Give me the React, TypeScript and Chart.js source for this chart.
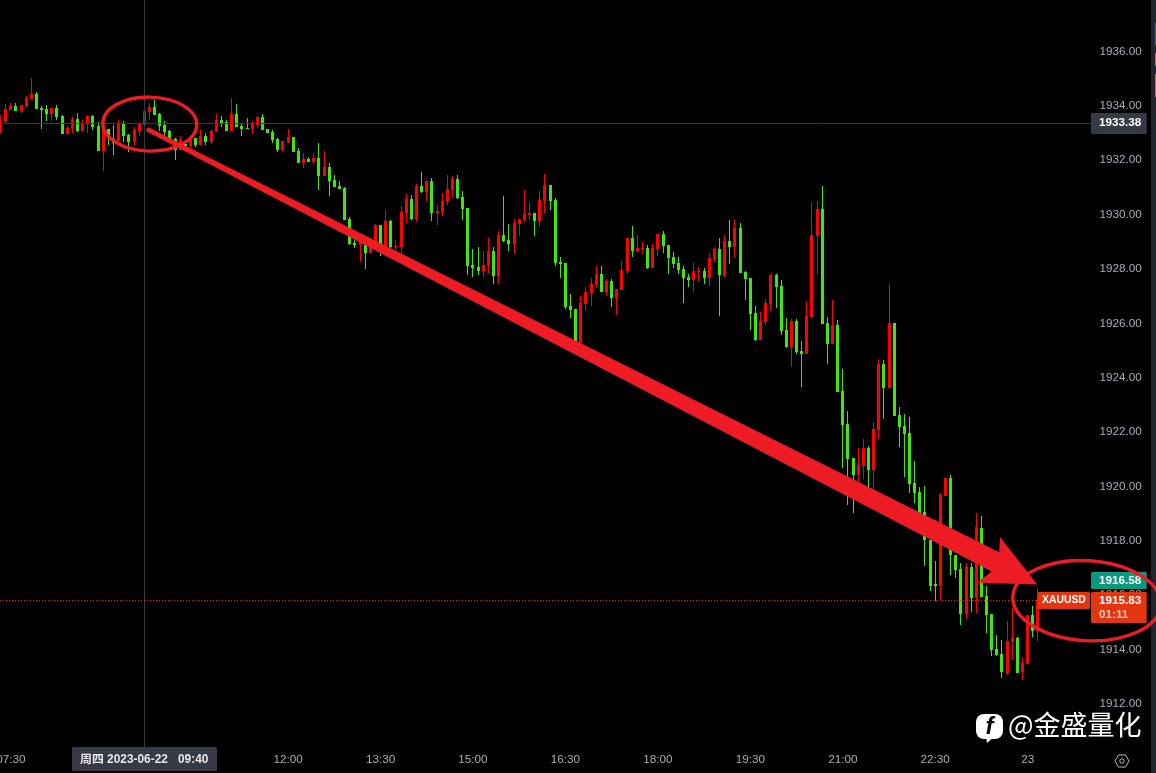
import React, { useEffect, useRef } from "react";
import Chart from "chart.js/auto";

const opens = [
  1933.02,1933.42,1933.85,1933.98,1933.81,1933.98,1934.25,1934.45,1933.92,1933.89,
  1933.70,1933.92,1933.63,1932.97,1933.15,1933.52,1933.08,1933.33,1933.63,1933.26,
  1932.34,1933.15,1932.77,1932.71,1933.33,1932.93,1932.67,1933.08,1933.30,1933.78,
  1933.96,1933.70,1933.30,1933.08,1932.77,1932.38,1932.60,1932.52,1932.82,1932.56,
  1932.89,1932.67,1933.04,1933.48,1933.41,1933.08,1933.70,1933.26,1933.17,1933.15,
  1933.30,1933.59,1933.15,1933.04,1932.78,1932.38,1932.67,1932.86,1932.34,1931.90,
  1932.05,1931.94,1932.08,1931.42,1931.75,1931.27,1931.05,1930.98,1929.84,1928.96,
  1928.88,1928.88,1928.59,1928.92,1929.62,1928.82,1929.77,1928.81,1928.81,1930.06,
  1930.58,1929.84,1931.05,1930.83,1931.24,1930.06,1930.10,1930.47,1930.91,1931.31,
  1930.65,1930.24,1928.15,1928.08,1927.93,1928.11,1928.66,1927.74,1929.25,1929.07,
  1928.92,1929.66,1929.80,1929.99,1930.06,1929.77,1930.50,1931.09,1930.54,1928.26,
  1928.22,1926.64,1926.53,1925.27,1926.71,1927.12,1927.41,1927.81,1927.15,1927.56,
  1926.93,1927.23,1927.93,1929.14,1928.66,1928.73,1928.77,1928.04,1928.73,1929.29,
  1928.88,1928.44,1928.22,1928.00,1927.70,1927.59,1927.89,1927.93,1927.67,1928.37,
  1928.73,1927.74,1929.03,1928.81,1929.51,1927.89,1927.67,1926.38,1925.39,1926.05,
  1926.71,1927.78,1927.37,1925.76,1925.13,1926.09,1924.98,1924.87,1926.23,1929.21,
  1930.21,1926.01,1925.24,1925.94,1923.51,1922.30,1921.05,1920.42,1920.75,1921.42,
  1920.61,1922.08,1924.50,1923.62,1926.01,1922.63,1922.22,1921.97,1920.13,1919.80,
  1919.07,1918.04,1916.40,1916.35,1919.66,1920.31,1917.49,1916.96,1915.32,1917.03,
  1915.89,1918.47,1915.98,1915.32,1914.03,1913.84,1913.13,1914.29,1914.43,1913.16,
  1913.48,1915.28,1914.67,
];

const highs = [
  1933.66,1934.07,1934.09,1934.09,1934.03,1934.36,1935.01,1934.51,1933.98,1934.03,
  1933.92,1934.03,1933.66,1933.26,1933.59,1933.74,1933.48,1933.66,1933.66,1933.41,
  1933.30,1933.15,1933.30,1933.48,1933.44,1932.97,1933.22,1933.33,1933.81,1934.11,
  1934.22,1933.74,1933.44,1933.11,1932.81,1932.89,1932.75,1932.89,1932.82,1933.11,
  1933.00,1933.11,1933.70,1933.63,1933.48,1934.29,1934.07,1933.33,1933.55,1933.44,
  1933.63,1933.70,1933.15,1933.11,1932.82,1932.71,1933.15,1932.86,1932.45,1932.27,
  1932.12,1932.27,1932.64,1932.34,1931.90,1931.46,1931.24,1931.02,1929.91,1929.07,
  1929.13,1929.01,1929.01,1929.66,1929.62,1930.17,1929.80,1929.07,1930.32,1930.76,
  1930.72,1931.13,1931.57,1931.24,1931.35,1930.36,1930.80,1931.46,1931.42,1931.46,
  1930.87,1930.24,1928.74,1928.81,1928.66,1929.14,1928.81,1929.40,1930.69,1929.66,
  1929.84,1929.84,1930.91,1930.47,1930.06,1930.87,1931.49,1931.09,1930.61,1928.44,
  1928.22,1927.08,1926.53,1927.01,1927.34,1927.67,1928.11,1928.11,1927.63,1927.63,
  1927.26,1928.29,1929.14,1929.58,1929.25,1928.99,1928.88,1928.92,1929.29,1929.40,
  1928.88,1928.62,1928.44,1928.11,1927.81,1928.22,1928.07,1928.04,1928.59,1928.81,
  1929.14,1929.25,1929.80,1929.80,1929.69,1927.93,1927.67,1926.64,1926.42,1926.90,
  1927.81,1927.81,1927.59,1926.20,1926.16,1926.16,1925.35,1926.82,1930.46,1930.50,
  1931.05,1926.23,1926.86,1926.12,1924.32,1922.78,1921.05,1921.42,1921.75,1921.49,
  1922.37,1924.65,1924.65,1927.45,1926.01,1922.92,1922.67,1922.56,1920.94,1919.97,
  1920.00,1918.04,1917.24,1919.75,1920.31,1920.43,1917.49,1917.18,1917.18,1917.18,
  1919.02,1918.90,1916.35,1915.32,1914.54,1914.36,1915.06,1915.52,1914.48,1913.69,
  1915.28,1915.61,1916.26,
];

const lows = [
  1933.02,1933.42,1933.85,1933.82,1933.75,1933.97,1934.25,1933.89,1933.16,1933.44,
  1933.44,1933.48,1932.97,1932.97,1933.00,1933.04,1933.08,1933.00,1933.11,1932.34,
  1931.61,1932.56,1932.19,1932.71,1932.67,1932.30,1932.52,1932.89,1933.30,1933.48,
  1933.66,1933.08,1932.86,1932.75,1932.01,1932.38,1932.49,1932.41,1932.49,1932.56,
  1932.56,1932.60,1933.04,1933.22,1933.08,1933.08,1933.22,1932.89,1933.15,1932.97,
  1933.19,1933.11,1933.00,1932.64,1932.30,1932.34,1932.64,1932.30,1931.90,1931.72,
  1931.94,1931.83,1930.91,1931.42,1930.69,1931.02,1930.94,1929.80,1928.88,1928.77,
  1928.26,1928.00,1928.59,1928.92,1928.48,1928.70,1928.77,1928.58,1928.52,1929.69,
  1929.80,1929.73,1930.80,1930.50,1929.77,1929.62,1929.95,1930.36,1930.61,1930.58,
  1929.80,1927.78,1927.71,1927.78,1927.71,1927.85,1927.45,1927.45,1928.99,1928.66,
  1928.55,1929.22,1929.73,1929.80,1929.22,1929.55,1930.06,1930.17,1928.11,1927.67,
  1926.53,1926.20,1925.27,1925.27,1926.49,1926.64,1927.30,1927.15,1927.01,1926.60,
  1926.31,1927.23,1927.81,1928.44,1928.59,1928.55,1928.00,1928.04,1928.48,1928.59,
  1927.81,1928.04,1927.81,1926.75,1927.34,1927.15,1927.56,1927.45,1927.37,1928.26,
  1926.27,1927.70,1928.18,1928.40,1927.85,1926.86,1925.76,1925.35,1925.39,1925.94,
  1926.45,1926.56,1925.57,1925.09,1924.39,1924.87,1923.66,1924.87,1926.23,1927.81,
  1925.98,1924.50,1925.24,1923.48,1920.68,1919.32,1919.03,1920.16,1920.27,1919.87,
  1919.87,1921.75,1922.48,1923.62,1922.59,1921.45,1920.35,1919.76,1919.39,1918.53,
  1917.06,1916.14,1915.77,1915.83,1919.66,1916.75,1916.63,1914.91,1915.12,1915.40,
  1915.36,1915.95,1914.60,1913.75,1913.75,1912.95,1913.07,1913.62,1913.13,1912.89,
  1913.48,1914.48,1914.30,
];

const closes = [
  1933.42,1933.89,1933.98,1933.82,1934.03,1934.29,1934.44,1933.89,1933.85,1933.70,
  1933.92,1933.59,1932.97,1933.19,1933.52,1933.08,1933.33,1933.63,1933.22,1932.34,
  1933.15,1932.82,1932.63,1933.33,1932.89,1932.67,1933.11,1933.33,1933.81,1933.96,
  1933.66,1933.26,1933.04,1932.77,1932.38,1932.75,1932.52,1932.82,1932.56,1932.89,
  1932.67,1933.08,1933.48,1933.37,1933.08,1933.70,1933.22,1933.15,1933.15,1933.37,
  1933.59,1933.11,1933.00,1932.75,1932.38,1932.71,1932.86,1932.30,1931.90,1932.05,
  1931.94,1932.08,1931.42,1931.75,1931.24,1931.02,1930.94,1929.80,1928.92,1928.88,
  1929.13,1928.59,1928.95,1929.62,1928.70,1929.77,1928.81,1928.85,1930.10,1930.58,
  1929.84,1931.05,1930.83,1931.24,1930.06,1930.13,1930.50,1930.94,1931.31,1930.61,
  1930.21,1928.11,1928.04,1927.93,1928.15,1928.66,1927.74,1929.25,1929.03,1928.92,
  1929.69,1929.84,1930.02,1930.06,1929.77,1930.54,1931.09,1930.50,1928.22,1928.18,
  1926.60,1926.49,1925.27,1926.75,1927.15,1927.45,1927.81,1927.15,1927.56,1926.93,
  1927.26,1927.96,1929.14,1928.66,1928.77,1928.77,1928.04,1928.77,1929.29,1928.84,
  1928.40,1928.18,1927.96,1927.67,1927.59,1927.93,1927.93,1927.67,1928.40,1928.73,
  1927.78,1929.03,1928.81,1929.51,1927.85,1927.63,1926.34,1925.39,1926.09,1926.75,
  1927.78,1927.34,1925.72,1925.13,1926.09,1924.95,1924.87,1926.27,1929.25,1930.21,
  1925.98,1925.24,1925.94,1923.48,1922.26,1921.01,1920.42,1920.79,1921.42,1920.61,
  1922.11,1924.50,1923.62,1926.01,1922.59,1922.19,1921.93,1920.09,1919.76,1919.02,
  1918.04,1916.35,1916.35,1919.68,1920.31,1917.49,1916.93,1915.32,1917.03,1915.89,
  1918.50,1915.95,1915.28,1913.99,1913.81,1913.16,1914.32,1914.43,1913.13,1913.51,
  1915.28,1914.67,1915.83,
];

// 5-minute bars; the slots after the last bar are the empty space left of the price axis.
const slotCount = 213;
const sessionStartMinutes = 7 * 60 + 20;
const categories = Array.from({ length: slotCount }, (_, i) => {
  const m = (sessionStartMinutes + i * 5) % 1440;
  return `${String(Math.floor(m / 60)).padStart(2, "0")}:${String(m % 60).padStart(2, "0")}`;
});
const timeTicks = ["07:30", "09:00", "10:30", "12:00", "13:30", "15:00", "16:30", "18:00", "19:30", "21:00", "22:30", "00:00"];
const timeTickText = ["07:30", "09:00", "10:30", "12:00", "13:30", "15:00", "16:30", "18:00", "19:30", "21:00", "22:30", "23"];
const priceTicks = [1912, 1914, 1916, 1918, 1920, 1922, 1924, 1926, 1928, 1930, 1932, 1934, 1936, 1938];

const crosshairIndex = 28;
const crosshairPrice = 1933.38;
const askPrice = 1916.58;
const lastPrice = 1915.83;

const UP = "#ff0000";
const DOWN = "#3fe80b";
const AXIS_TEXT = "#a9acb4";
const CROSS = "#363a45";
const MARK = "#ed1c24";
const FONT = '"Liberation Sans", "Noto Sans CJK SC", sans-serif';

// Hand-drawn annotation, anchored in chart values: [bar index, price].
const arrowOutline: [number, number][] = [
  [28.88, 1933.205], [194.47, 1917.58], [194.6, 1918.14], [201.87, 1916.39],
  [190.18, 1916.46], [192.99, 1916.87], [28.88, 1933.02],
];
const circleLeft = { index: 29.07, price: 1933.33, rx: 47, ry: 27, tilt: 0.02 };
const circleRight = { index: 211.5, price: 1915.8, rx: 74, ry: 40, tilt: 0.06 };

const OFFSET_Y = 20; // canvas starts above the page so the half-hidden 1938 tick shows

const snapPlugin = {
  id: "snap",
  beforeDatasetsDraw(chart: any) {
    chart.data.datasets.forEach((_: any, d: number) => {
      chart.getDatasetMeta(d).data.forEach((el: any) => {
        el.x = Math.floor(el.x) + 0.5;
        el.y = Math.round(el.y);
        el.base = Math.round(el.base);
        if (el.base === el.y) el.base = el.y + 1;
      });
    });
  },
};

function tag(ctx: any, x: number, y: number, w: number, h: number, fill: string) {
  ctx.fillStyle = fill;
  ctx.beginPath();
  ctx.roundRect(x, y, w, h, 1.5);
  ctx.fill();
}

const overlayPlugin = {
  id: "overlay",
  afterDraw(chart: any) {
    const { ctx } = chart;
    const sx = chart.scales.x;
    const sy = chart.scales.y;
    const px = (i: number) => sx.getPixelForValue(i);
    const py = (p: number) => sy.getPixelForValue(p);
    const right = chart.chartArea.right;
    const axisBottom = 747 + OFFSET_Y;

    ctx.save();
    ctx.textBaseline = "middle";

    // strip at the right edge
    ctx.fillStyle = "#22252e";
    ctx.fillRect(1151, 0, 5, 793);
    ctx.fillStyle = "#2962ff";
    ctx.fillRect(1155, 23 + OFFSET_Y, 1, 22);
    ctx.fillStyle = "#ef5350";
    ctx.fillRect(1155, 53 + OFFSET_Y, 1, 13);
    ctx.fillRect(1155, 74 + OFFSET_Y, 1, 23);

    // crosshair
    const cx = Math.floor(px(crosshairIndex)) + 0.5;
    const cy = Math.round(py(crosshairPrice)) + 0.5;
    ctx.strokeStyle = CROSS;
    ctx.lineWidth = 1;
    ctx.beginPath();
    ctx.moveTo(cx, 0);
    ctx.lineTo(cx, axisBottom);
    ctx.moveTo(0, cy);
    ctx.lineTo(right + 2, cy);
    ctx.stroke();

    // last price line
    const ly = Math.round(py(lastPrice)) + 0.5;
    ctx.strokeStyle = "#e8300f";
    ctx.setLineDash([1, 2]);
    ctx.beginPath();
    ctx.moveTo(0, ly);
    ctx.lineTo(1038, ly);
    ctx.stroke();
    ctx.setLineDash([]);

    // price tags
    ctx.textAlign = "left";
    const tagX = 1091;
    const tagW = 55.7;
    const textX = 1099;
    ctx.font = `bold 11.7px ${FONT}`;
    tag(ctx, tagX, 113 + OFFSET_Y, tagW, 21, CROSS);
    ctx.fillStyle = "#ffffff";
    ctx.fillText(crosshairPrice.toFixed(2), textX, py(crosshairPrice) + 0.5);

    tag(ctx, tagX, 572 + OFFSET_Y, tagW, 17, "#0a9a80");
    ctx.fillStyle = "#ffffff";
    ctx.fillText(askPrice.toFixed(2), textX, py(askPrice) + 1);

    tag(ctx, tagX, 592 + OFFSET_Y, tagW, 31, "#e23510");
    ctx.fillStyle = "#ffffff";
    ctx.fillText(lastPrice.toFixed(2), textX, py(lastPrice) + 0.5);
    ctx.fillStyle = "#f8c4b4";
    ctx.fillText("01:11", textX, 615 + OFFSET_Y);

    tag(ctx, 1037.5, 592 + OFFSET_Y, 52.5, 17, "#e23510");
    ctx.font = `bold 10.4px ${FONT}`;
    ctx.fillStyle = "#ffffff";
    ctx.fillText("XAUUSD", 1042, py(lastPrice) + 0.5);

    // crosshair date tag
    tag(ctx, 72, 747 + OFFSET_Y, 145, 24, CROSS);
    ctx.font = `bold 11.9px ${FONT}`;
    ctx.fillStyle = "#e6e7ea";
    ctx.fillText("周四 2023-06-22", 80, 760 + OFFSET_Y);
    ctx.fillText("09:40", 178, 760 + OFFSET_Y);

    // settings icon
    const gx = 1122;
    const gy = 761 + OFFSET_Y;
    ctx.strokeStyle = "#b2b5be";
    ctx.lineWidth = 1;
    ctx.beginPath();
    for (let a = 0; a < 6; a++) {
      const x = gx + 7 * Math.cos((a * Math.PI) / 3);
      const y = gy + 7 * Math.sin((a * Math.PI) / 3);
      if (a === 0) ctx.moveTo(x, y);
      else ctx.lineTo(x, y);
    }
    ctx.closePath();
    ctx.stroke();
    ctx.beginPath();
    ctx.arc(gx, gy, 2.2, 0, Math.PI * 2);
    ctx.stroke();

    // annotation: arrow
    ctx.fillStyle = MARK;
    ctx.beginPath();
    arrowOutline.forEach(([i, p], n) => {
      if (n === 0) ctx.moveTo(px(i), py(p));
      else ctx.lineTo(px(i), py(p));
    });
    ctx.closePath();
    ctx.fill();
    ctx.beginPath();
    ctx.arc(px(arrowOutline[0][0]), (py(arrowOutline[0][1]) + py(arrowOutline[6][1])) / 2, 2.6, 0, Math.PI * 2);
    ctx.fill();

    // annotation: circles
    ctx.strokeStyle = MARK;
    ctx.lineWidth = 3.4;
    [circleLeft, circleRight].forEach((c) => {
      ctx.beginPath();
      ctx.ellipse(px(c.index), py(c.price), c.rx, c.ry, c.tilt, 0, Math.PI * 2);
      ctx.stroke();
    });

    // watermark
    const wy = OFFSET_Y;
    ctx.fillStyle = "#ffffff";
    ctx.beginPath();
    ctx.roundRect(976, 714 + wy, 27, 25, 8);
    ctx.fill();
    ctx.beginPath();
    ctx.moveTo(986, 736 + wy);
    ctx.lineTo(987, 743 + wy);
    ctx.lineTo(995, 736 + wy);
    ctx.closePath();
    ctx.fill();
    ctx.fillStyle = "#000000";
    ctx.font = `italic bold 24px ${FONT}`;
    ctx.textAlign = "center";
    ctx.fillText("f", 989.5, 727 + wy);
    ctx.fillStyle = "#ffffff";
    ctx.textAlign = "left";
    ctx.font = `27px "Noto Sans CJK SC", ${FONT}`;
    ctx.fillText("@金盛量化", 1008, 725 + wy);

    ctx.restore();
  },
};

export default function App() {
  const ref = useRef<HTMLCanvasElement | null>(null);
  useEffect(() => {
    if (!ref.current) return;
    const isUp = closes.map((c, i) => c >= opens[i]);
    const colors = isUp.map((u) => (u ? UP : DOWN));
    const chart = new Chart(ref.current, {
      type: "bar",
      data: {
        labels: categories,
        datasets: [
          {
            label: "wick",
            data: lows.map((l, i) => [l, highs[i]]),
            backgroundColor: colors,
            barThickness: 1,
            borderWidth: 0,
            inflateAmount: 0,
            grouped: false,
            order: 2,
            clip: false,
          },
          {
            label: "body",
            data: opens.map((o, i) => [Math.min(o, closes[i]), Math.max(o, closes[i])]),
            backgroundColor: colors,
            barThickness: 3,
            borderWidth: 0,
            inflateAmount: 0,
            grouped: false,
            order: 1,
            clip: false,
          },
        ] as any,
      },
      options: {
        animation: false,
        responsive: false,
        devicePixelRatio: 1,
        events: [],
        layout: { padding: { left: 0.5, right: 0, top: 0, bottom: 0 } },
        plugins: { legend: { display: false }, tooltip: { enabled: false }, title: { display: false } },
        scales: {
          x: {
            type: "category",
            offset: false,
            grid: { display: false, drawTicks: false },
            border: { display: false },
            ticks: {
              autoSkip: false,
              maxRotation: 0,
              minRotation: 0,
              padding: 8,
              color: AXIS_TEXT,
              font: { family: FONT, size: 11.7 },
              callback: (_v: any, i: number) => {
                const k = timeTicks.indexOf(categories[i]);
                return k >= 0 ? timeTickText[k] : "";
              },
            },
            afterFit: (s: any) => {
              s.height = 28;
              s.paddingLeft = s.paddingRight = s.paddingTop = s.paddingBottom = 0;
            },
          },
          y: {
            position: "right",
            type: "linear",
            bounds: "data",
            min: 1910.49,
            max: 1938.63,
            grid: { display: false, drawTicks: false },
            border: { display: false },
            ticks: {
              stepSize: 2,
              autoSkip: false,
              padding: 10.2,
              color: AXIS_TEXT,
              font: { family: FONT, size: 11.7 },
              callback: (v: any) => Number(v).toFixed(2),
            },
            afterBuildTicks: (s: any) => {
              s.ticks = priceTicks.map((value) => ({ value }));
            },
            afterFit: (s: any) => {
              s.width = 66.7;
              s.paddingLeft = s.paddingRight = s.paddingTop = s.paddingBottom = 0;
            },
          },
        },
      } as any,
      plugins: [snapPlugin, overlayPlugin] as any,
    });
    return () => chart.destroy();
  }, []);
  return (
    <div style={{ position: "fixed", inset: 0, background: "#000", overflow: "hidden" }}>
      <canvas
        ref={ref}
        width={1156}
        height={793}
        style={{ position: "absolute", left: 0, top: -OFFSET_Y, width: 1156, height: 793, display: "block" }}
      />
    </div>
  );
}
